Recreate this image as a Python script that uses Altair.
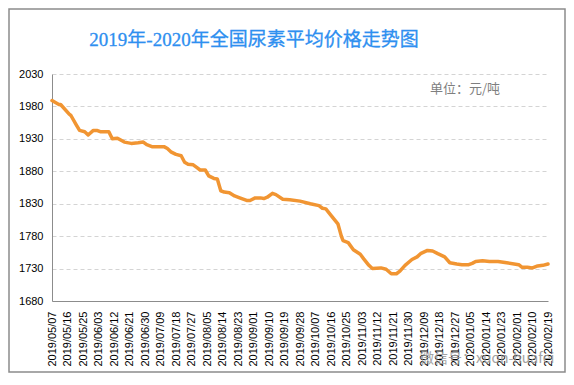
import altair as alt
import pandas as pd

dates = [
    "2019-05-07", "2019-05-11", "2019-05-12", "2019-05-17", "2019-05-18", "2019-05-21",
    "2019-05-23", "2019-05-26", "2019-05-28", "2019-05-31", "2019-06-02", "2019-06-04",
    "2019-06-09", "2019-06-11", "2019-06-14", "2019-06-18", "2019-06-22", "2019-06-26",
    "2019-06-29", "2019-07-01", "2019-07-04", "2019-07-11", "2019-07-13", "2019-07-15",
    "2019-07-18", "2019-07-21", "2019-07-23", "2019-07-25", "2019-07-28", "2019-07-30",
    "2019-08-01", "2019-08-04", "2019-08-06", "2019-08-09", "2019-08-11", "2019-08-13",
    "2019-08-15", "2019-08-18", "2019-08-21", "2019-08-24", "2019-08-28", "2019-08-30",
    "2019-09-02", "2019-09-05", "2019-09-07", "2019-09-09", "2019-09-12", "2019-09-14",
    "2019-09-18", "2019-09-22", "2019-09-28", "2019-10-04", "2019-10-09", "2019-10-11",
    "2019-10-13", "2019-10-16", "2019-10-20", "2019-10-22", "2019-10-23", "2019-10-26",
    "2019-10-29", "2019-11-02", "2019-11-04", "2019-11-07", "2019-11-09", "2019-11-14",
    "2019-11-17", "2019-11-20", "2019-11-23", "2019-11-25", "2019-11-28", "2019-12-02",
    "2019-12-05", "2019-12-07", "2019-12-11", "2019-12-14", "2019-12-17", "2019-12-21",
    "2019-12-24", "2019-12-28", "2019-12-31", "2020-01-04", "2020-01-06", "2020-01-08",
    "2020-01-12", "2020-01-16", "2020-01-21", "2020-01-26", "2020-02-02", "2020-02-04",
    "2020-02-07", "2020-02-10", "2020-02-13", "2020-02-16", "2020-02-19",
]
prices = [
    1989, 1983, 1983, 1968, 1966, 1952,
    1943, 1941, 1936, 1943, 1943, 1941,
    1941, 1930, 1931, 1925, 1923, 1924,
    1925, 1921, 1918, 1918, 1915, 1910,
    1906, 1904, 1894, 1891, 1890, 1886,
    1882, 1882, 1873, 1869, 1868, 1850,
    1848, 1847, 1842, 1839, 1835, 1835,
    1839, 1839, 1838, 1840, 1846, 1844,
    1837, 1836, 1834, 1830, 1827, 1823,
    1822, 1812, 1799, 1780, 1773, 1770,
    1759, 1752, 1745, 1735, 1730, 1731,
    1729, 1722, 1722, 1726, 1735, 1744,
    1748, 1753, 1758, 1757, 1753, 1748,
    1739, 1737, 1736, 1736, 1738, 1741,
    1742, 1741, 1741, 1739, 1736, 1732,
    1732, 1731, 1734, 1735, 1737,
]

# tick label dates (every 9 days)
tick_dates = [
    (2019, 5, 7), (2019, 5, 16), (2019, 5, 25), (2019, 6, 3), (2019, 6, 12),
    (2019, 6, 21), (2019, 6, 30), (2019, 7, 9), (2019, 7, 18), (2019, 7, 27),
    (2019, 8, 5), (2019, 8, 14), (2019, 8, 23), (2019, 9, 1), (2019, 9, 10),
    (2019, 9, 19), (2019, 9, 28), (2019, 10, 7), (2019, 10, 16), (2019, 10, 25),
    (2019, 11, 3), (2019, 11, 12), (2019, 11, 21), (2019, 11, 30), (2019, 12, 9),
    (2019, 12, 18), (2019, 12, 27), (2020, 1, 5), (2020, 1, 14), (2020, 1, 23),
    (2020, 2, 1), (2020, 2, 10), (2020, 2, 19),
]
y_ticks = [1680, 1730, 1780, 1830, 1880, 1930, 1980, 2030]

title_text = "2019年-2020年全国尿素平均价格走势图"
unit_text = "单位：元/吨"
watermark_text = "微信号：xuon-huafei"

W, H = 496, 227
PAD = {"left": 44, "top": 66, "right": 18, "bottom": 72}

df = pd.DataFrame({"date": dates, "price": prices})

tick_vals = [alt.DateTime(year=y, month=m, date=d, utc=True) for (y, m, d) in tick_dates]
x_domain = [tick_vals[0], tick_vals[-1]]

line = alt.Chart(df).mark_line(
    color="#F19532", strokeWidth=3.5, strokeJoin="round", strokeCap="round"
).encode(
    x=alt.X(
        "date:T",
        scale=alt.Scale(type="utc", domain=x_domain, nice=False),
        axis=alt.Axis(
            title=None,
            values=tick_vals,
            labelExpr="utcFormat(datum.value, '%Y/%m/%d')",
            labelAngle=270,
            labelAlign="right",
            labelBaseline="middle",
            labelPadding=10,
            labelFont="Liberation Sans",
            labelFontSize=11,
            labelColor="#000000",
            labelOverlap=False,
            labelFlush=False,
            ticks=False,
            grid=False,
            domainColor="#8c8c8c",
            domainWidth=1,
        ),
    ),
    y=alt.Y(
        "price:Q",
        scale=alt.Scale(domain=[1680, 2030], nice=False, zero=False),
        axis=alt.Axis(
            title=None,
            values=y_ticks,
            format="d",
            labelFont="Liberation Sans",
            labelFontSize=11,
            labelColor="#000000",
            labelPadding=9,
            ticks=False,
            grid=True,
            gridColor="#d4d4d4",
            gridDash=[4, 3],
            gridWidth=1,
            domainColor="#8c8c8c",
            domainWidth=1,
        ),
    ),
)

one = pd.DataFrame({"a": [0]})

frame = alt.Chart(one).mark_rect(
    fill="transparent", stroke="#8c8c8c", strokeWidth=1.5
).encode(
    x=alt.value(-43),
    x2=alt.value(W + PAD["right"] - 1),
    y=alt.value(-PAD["top"] + 1),
    y2=alt.value(H + PAD["bottom"] - 1),
)

title = alt.Chart(one).mark_text(
    text=title_text, font="Liberation Serif, Noto Sans CJK SC", fontSize=19,
    fontWeight="normal", color="#2E8FF0", align="center", baseline="middle",
    stroke="#2E8FF0", strokeWidth=0.3,
).encode(x=alt.value(202), y=alt.value(-34))

unit = alt.Chart(one).mark_text(
    text=unit_text, font="Noto Sans CJK SC", fontSize=13,
    color="#7f7f7f", align="left", baseline="middle",
).encode(x=alt.value(378), y=alt.value(15))

watermark = alt.Chart(one).mark_text(
    text=watermark_text, font="Noto Sans CJK SC", fontSize=14,
    color="#9a9a9a", opacity=0.9, align="left", baseline="middle",
).encode(x=alt.value(368), y=alt.value(H + 58))

chart = alt.layer(line, frame, title, unit, watermark).properties(
    width=W, height=H,
    padding=PAD,
    autosize=alt.AutoSizeParams(type="none"),
    background="white",
).configure_view(stroke=None)

chart.save("out.html", embed_options={"renderer": "svg", "actions": False})
